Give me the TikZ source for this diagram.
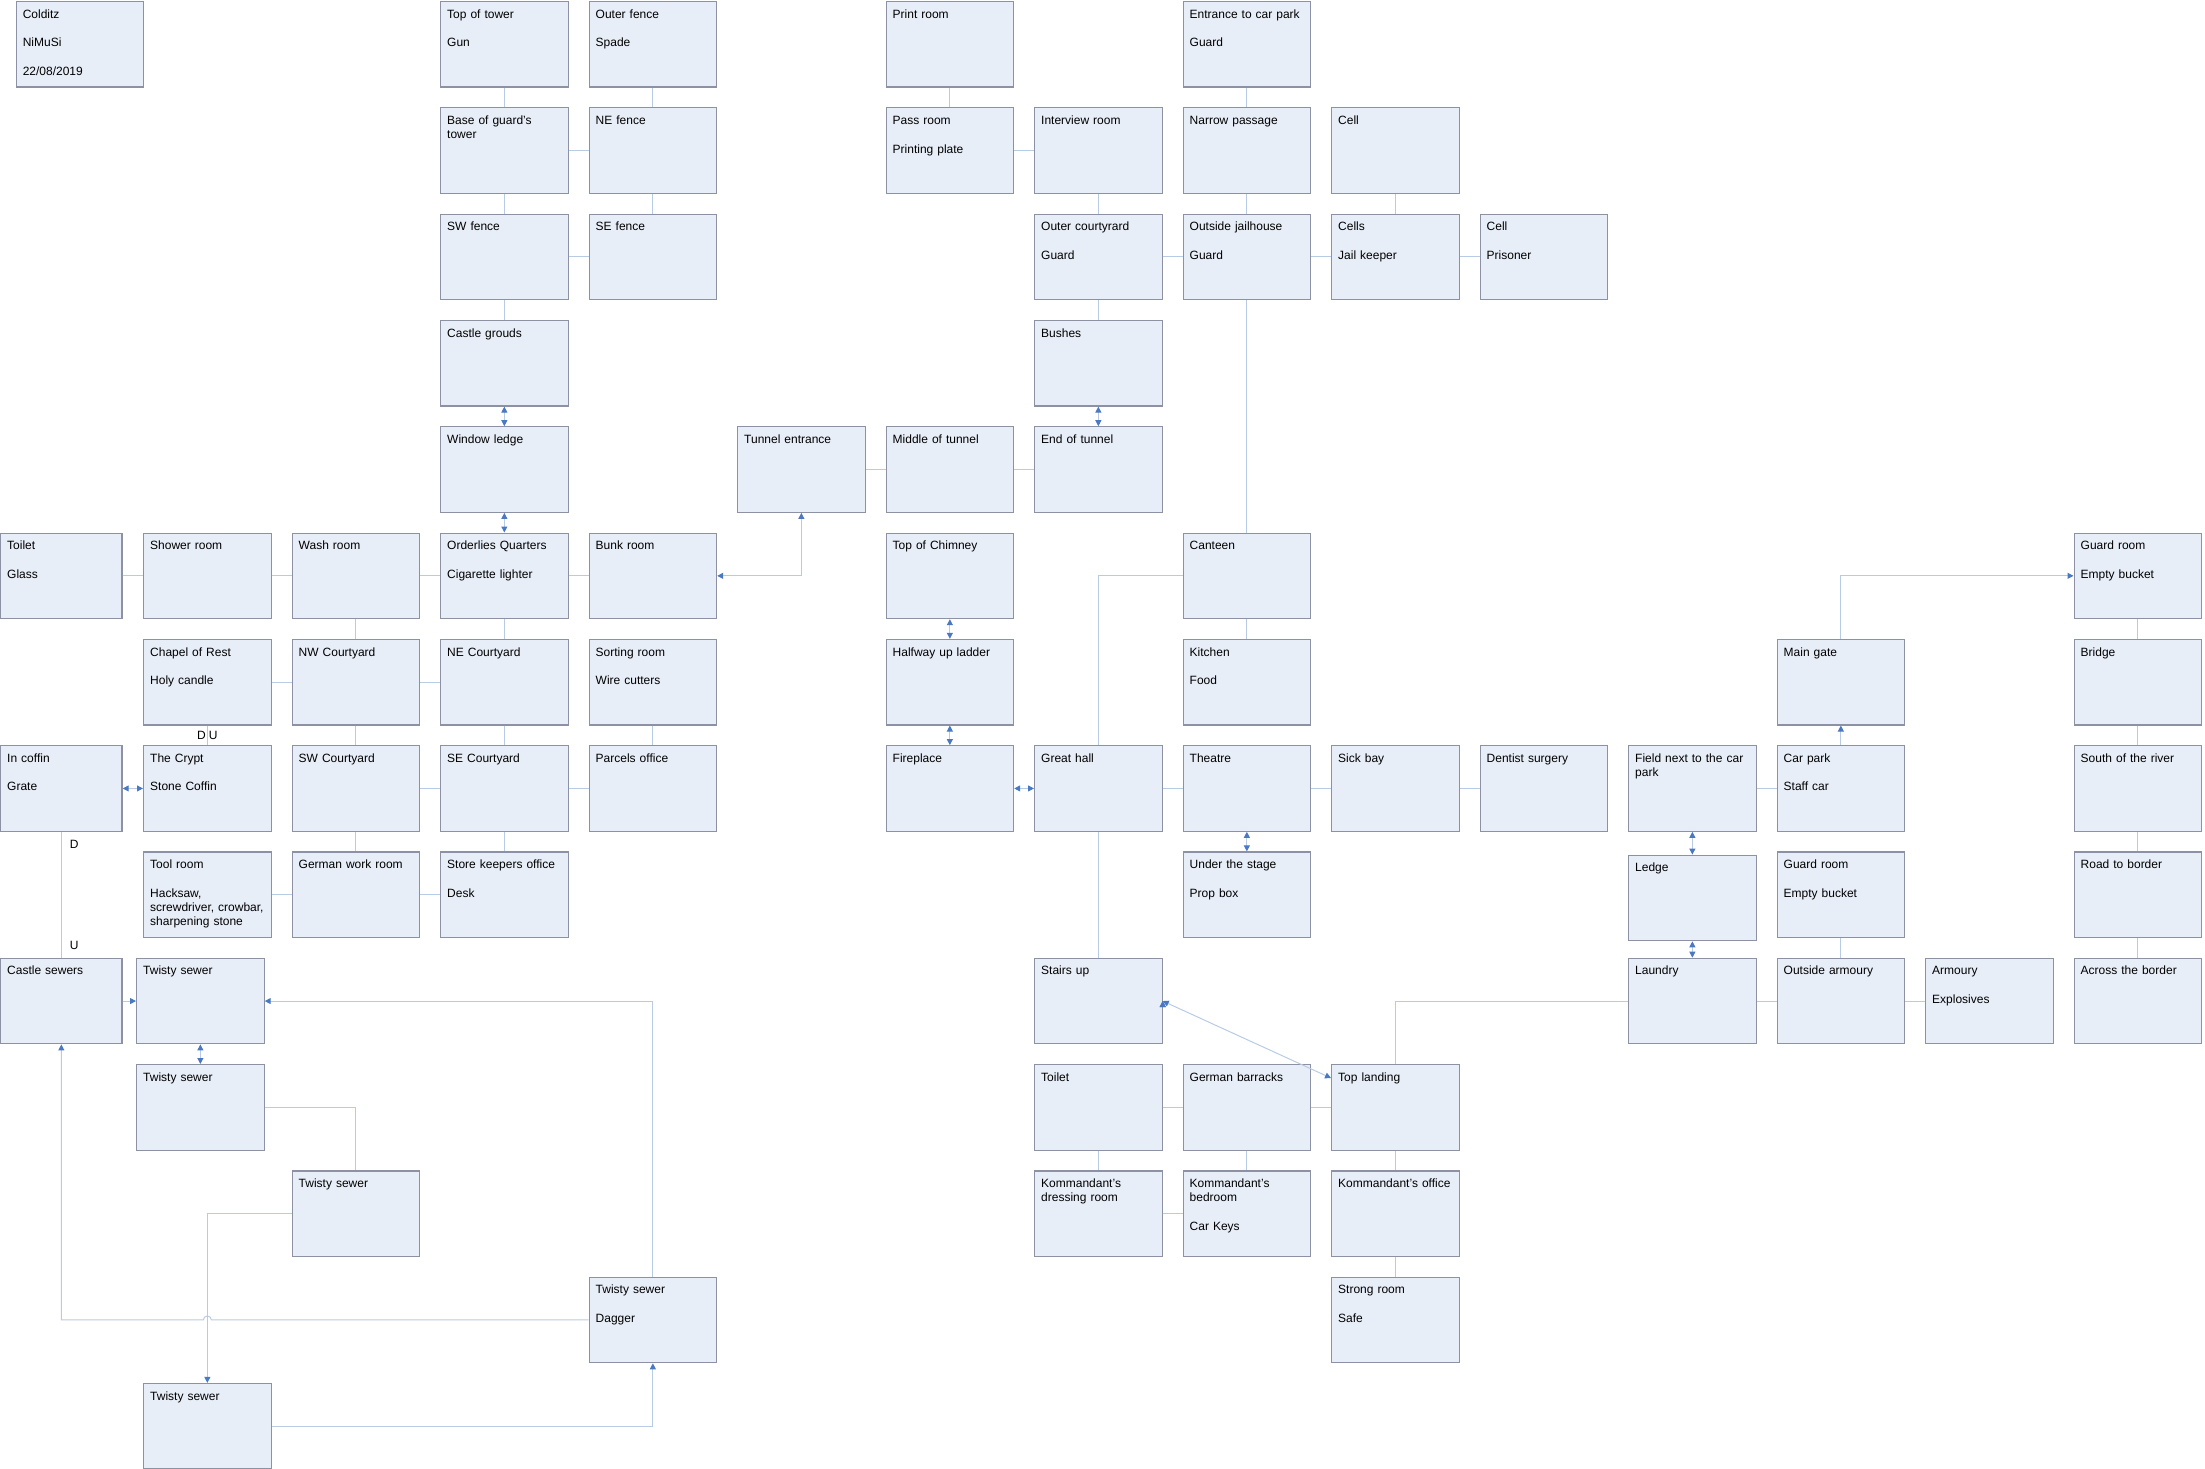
\documentclass[tikz,border=0pt]{standalone}
\usepackage{fontspec}
\setmainfont{Liberation Sans}
\usetikzlibrary{arrows.meta}
\definecolor{roomfill}{HTML}{E8EEF8}
\definecolor{roomline}{HTML}{8C92A4}
\definecolor{linkcol}{HTML}{B8CBE4}
\definecolor{arrowcol}{HTML}{4A78C2}
\newcommand{\roomfont}{\fontsize{12pt}{14.3pt}\selectfont}

\begin{document}
\begin{tikzpicture}[x=148.5pt,y=-106.3pt,
  >={Triangle[length=6pt,width=6pt,color=arrowcol]},
  room/.style={draw=roomline,line width=1.2pt,fill=roomfill,anchor=north west,
    inner xsep=6.6pt,inner ysep=4pt,text width=114.3pt,align=left,
    text height=12.6pt,text depth=64.9pt,font=\roomfont},
  edgeroom/.style={room,text width=108.3pt},
  link/.style={draw=linkcol,color=linkcol,line width=1pt},
  tag/.style={font=\roomfont,text=black,inner sep=1pt}]

  \useasboundingbox (5.5pt,1pt) rectangle (2210.5pt,-1468pt);

  % row 0
  \node[room] (colditz) at (0.142,0) {Colditz\\[14.3pt]NiMuSi\\[14.3pt]22/08/2019};
  \node[room] (toptower) at (3,0) {Top of tower\\[14.3pt]Gun};
  \node[room] (outerfence) at (4,0) {Outer fence\\[14.3pt]Spade};
  \node[room] (printroom) at (6,0) {Print room};
  \node[room] (entrance) at (8,0) {Entrance to car park\\[14.3pt]Guard};
  % row 1
  \node[room] (basetower) at (3,1) {Base of guard's\\tower};
  \node[room] (nefence) at (4,1) {NE fence};
  \node[room] (passroom) at (6,1) {Pass room\\[14.3pt]Printing plate};
  \node[room] (interview) at (7,1) {Interview room};
  \node[room] (narrow) at (8,1) {Narrow passage};
  \node[room] (cella) at (9,1) {Cell};
  % row 2
  \node[room] (swfence) at (3,2) {SW fence};
  \node[room] (sefence) at (4,2) {SE fence};
  \node[room] (outercourt) at (7,2) {Outer courtyrard\\[14.3pt]Guard};
  \node[room] (jailhouse) at (8,2) {Outside jailhouse\\[14.3pt]Guard};
  \node[room] (cells) at (9,2) {Cells\\[14.3pt]Jail keeper};
  \node[room] (cellb) at (10,2) {Cell\\[14.3pt]Prisoner};
  % row 3
  \node[room] (grounds) at (3,3) {Castle grouds};
  \node[room] (bushes) at (7,3) {Bushes};
  % row 4
  \node[room] (winledge) at (3,4) {Window ledge};
  \node[room] (tunnelin) at (5,4) {Tunnel entrance};
  \node[room] (tunnelmid) at (6,4) {Middle of tunnel};
  \node[room] (tunnelend) at (7,4) {End of tunnel};
  % row 5
  \node[edgeroom] (toilet) at (0.037,5) {Toilet\\[14.3pt]Glass};
  \node[room] (shower) at (1,5) {Shower room};
  \node[room] (wash) at (2,5) {Wash room};
  \node[room] (orderlies) at (3,5) {Orderlies Quarters\\[14.3pt]Cigarette lighter};
  \node[room] (bunk) at (4,5) {Bunk room};
  \node[room] (chimney) at (6,5) {Top of Chimney};
  \node[room] (canteen) at (8,5) {Canteen};
  \node[room] (guardtop) at (14,5) {Guard room\\[14.3pt]Empty bucket};
  % row 6
  \node[room] (chapel) at (1,6) {Chapel of Rest\\[14.3pt]Holy candle};
  \node[room] (nwcourt) at (2,6) {NW Courtyard};
  \node[room] (necourt) at (3,6) {NE Courtyard};
  \node[room] (sorting) at (4,6) {Sorting room\\[14.3pt]Wire cutters};
  \node[room] (ladder) at (6,6) {Halfway up ladder};
  \node[room] (kitchen) at (8,6) {Kitchen\\[14.3pt]Food};
  \node[room] (maingate) at (12,6) {Main gate};
  \node[room] (bridge) at (14,6) {Bridge};
  % row 7
  \node[edgeroom] (coffin) at (0.037,7) {In coffin\\[14.3pt]Grate};
  \node[room] (crypt) at (1,7) {The Crypt\\[14.3pt]Stone Coffin};
  \node[room] (swcourt) at (2,7) {SW Courtyard};
  \node[room] (secourt) at (3,7) {SE Courtyard};
  \node[room] (parcels) at (4,7) {Parcels office};
  \node[room] (fireplace) at (6,7) {Fireplace};
  \node[room] (greathall) at (7,7) {Great hall};
  \node[room] (theatre) at (8,7) {Theatre};
  \node[room] (sickbay) at (9,7) {Sick bay};
  \node[room] (dentist) at (10,7) {Dentist surgery};
  \node[room] (field) at (11,7) {Field next to the car\\park};
  \node[room] (carpark) at (12,7) {Car park\\[14.3pt]Staff car};
  \node[room] (river) at (14,7) {South of the river};
  % row 8
  \node[room] (toolroom) at (1,8) {Tool room\\[14.3pt]Hacksaw,\\screwdriver, crowbar,\\sharpening stone};
  \node[room] (workroom) at (2,8) {German work room};
  \node[room] (storekeep) at (3,8) {Store keepers office\\[14.3pt]Desk};
  \node[room] (stage) at (8,8) {Under the stage\\[14.3pt]Prop box};
  \node[room] (ledge) at (11,8.03) {Ledge};
  \node[room] (guardlow) at (12,8) {Guard room\\[14.3pt]Empty bucket};
  \node[room] (road) at (14,8) {Road to border};
  % row 9
  \node[edgeroom] (sewers) at (0.037,9) {Castle sewers};
  \node[room] (twistya) at (0.953,9) {Twisty sewer};
  \node[room] (stairs) at (7,9) {Stairs up};
  \node[room] (laundry) at (11,9) {Laundry};
  \node[room] (outarmoury) at (12,9) {Outside armoury};
  \node[room] (armoury) at (13,9) {Armoury\\[14.3pt]Explosives};
  \node[room] (across) at (14,9) {Across the border};
  % row 10
  \node[room] (twistyb) at (0.953,10) {Twisty sewer};
  \node[room] (toiletk) at (7,10) {Toilet};
  \node[room] (barracks) at (8,10) {German barracks};
  \node[room] (landing) at (9,10) {Top landing};
  % row 11
  \node[room] (twistyc) at (2,11) {Twisty sewer};
  \node[room] (dressing) at (7,11) {Kommandant's\\dressing room};
  \node[room] (bedroom) at (8,11) {Kommandant's\\bedroom\\[14.3pt]Car Keys};
  \node[room] (office) at (9,11) {Kommandant's office};
  % row 12
  \node[room] (twistyd) at (4,12) {Twisty sewer\\[14.3pt]Dagger};
  \node[room] (strong) at (9,12) {Strong room\\[14.3pt]Safe};
  % row 13
  \node[room] (twistye) at (1,13) {Twisty sewer};

  % plain passages
  \path[link]
    (toptower) edge (basetower)
    (outerfence) edge (nefence)
    (basetower) edge (nefence)
    (basetower) edge (swfence)
    (nefence) edge (sefence)
    (swfence) edge (sefence)
    (swfence) edge (grounds)
    (printroom) edge (passroom)
    (passroom) edge (interview)
    (interview) edge (outercourt)
    (entrance) edge (narrow)
    (narrow) edge (jailhouse)
    (cella) edge (cells)
    (outercourt) edge (jailhouse)
    (jailhouse) edge (cells)
    (cells) edge (cellb)
    (outercourt) edge (bushes)
    (jailhouse) edge (canteen)
    (tunnelin) edge (tunnelmid)
    (tunnelmid) edge (tunnelend)
    (toilet) edge (shower)
    (shower) edge (wash)
    (wash) edge (orderlies)
    (orderlies) edge (bunk)
    (wash) edge (nwcourt)
    (orderlies) edge (necourt)
    (chapel) edge (nwcourt)
    (nwcourt) edge (necourt)
    (sorting) edge (parcels)
    (nwcourt) edge (swcourt)
    (necourt) edge (secourt)
    (swcourt) edge (secourt)
    (secourt) edge (parcels)
    (swcourt) edge (workroom)
    (secourt) edge (storekeep)
    (toolroom) edge (workroom)
    (workroom) edge (storekeep)
    (canteen) edge (kitchen)
    (greathall) edge (theatre)
    (theatre) edge (sickbay)
    (sickbay) edge (dentist)
    (greathall) edge (stairs)
    (field) edge (carpark)
    (laundry) edge (outarmoury)
    (outarmoury) edge (armoury)
    (guardlow) edge (outarmoury)
    (guardtop) edge (bridge)
    (bridge) edge (river)
    (river) edge (road)
    (road) edge (across)
    (toiletk) edge (barracks)
    (barracks) edge (landing)
    (toiletk) edge (dressing)
    (barracks) edge (bedroom)
    (landing) edge (office)
    (dressing) edge (bedroom)
    (office) edge (strong);

  % ways both there and back
  \path[link,<->]
    (grounds) edge (winledge)
    (winledge) edge (orderlies)
    (bushes) edge (tunnelend)
    (chimney) edge (ladder)
    (ladder) edge (fireplace)
    (fireplace) edge (greathall)
    (theatre) edge (stage)
    (coffin) edge (crypt)
    (field) edge (ledge)
    (ledge) edge (laundry)
    (twistya) edge (twistyb)
    (stairs.east) edge (landing);

  % one way only
  \path[link,->]
    (carpark) edge (maingate)
    (sewers) edge (twistya);

  \draw[link] (chapel) -- node[tag,left] (dn1) {D} node[tag,right] (up1) {U} (crypt);
  \draw[link] (coffin) -- node[tag,pos=0.1,right=7pt] (dn2) {D}
    node[tag,pos=0.9,right=7pt] (up2) {U} (sewers);
  \draw[link,<->] (tunnelin.south) |- (bunk.east);
  \draw[link] (canteen.west) -| (greathall.north);
  \draw[link] (landing.north) |- (laundry.west);
  \draw[link,->] (maingate.north) |- (guardtop.west);
  \draw[link,->] (twistyd.north) |- (twistya.east);
  \draw[link] (twistyb.east) -| (twistyc.north);
  \draw[link,->] (twistyc.west) -| (twistye.north);
  \draw[link,->] (twistye.east) -| (twistyd.south);
  \draw[link,->] (twistyd.west) -- ([xshift=4pt]twistye.north |- twistyd.west)
    arc[start angle=0,end angle=180,radius=4pt] -| (sewers.south);
\end{tikzpicture}
\end{document}
